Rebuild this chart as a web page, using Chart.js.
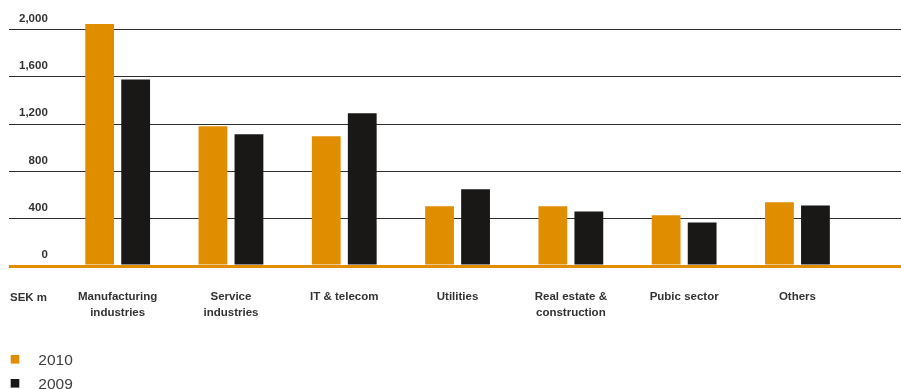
<!DOCTYPE html>
<html><head><meta charset="utf-8">
<script src="https://cdn.jsdelivr.net/npm/chart.js@4.4.1/dist/chart.umd.min.js"></script>
<style>html,body{margin:0;padding:0;background:#fff;}canvas{display:block;}</style>
</head><body>
<canvas id="c" width="901" height="389"></canvas>
<script>
// ---- data ----
const categories = [['Manufacturing','industries'], ['Service','industries'], 'IT & telecom', 'Utilities', ['Real estate &','construction'], 'Pubic sector', 'Others'];
const series2010 = [2045, 1181, 1096, 504, 504, 428, 538];
const series2009 = [1577, 1113, 1291, 648, 461, 368, 512];
const yTickValues = [0, 400, 800, 1200, 1600, 2000];
const seriesLabels = ['2010', '2009'];
const unitLabel = 'SEK m';

// ---- styles ----
const ORANGE = '#e08e00';
const BLACK = '#191817';
const FONT = '"Liberation Sans", Arial, Helvetica, sans-serif';
const TICK_PAD_X = 22.5;
const LINE_H = 16;

const extras = {
  id: 'extras',
  afterDraw(chart) {
    const ctx = chart.ctx;
    const xs = chart.scales.x;
    const ca = chart.chartArea;
    ctx.save();
    // unit label at left of category labels
    ctx.font = 'bold 11.5px ' + FONT;
    ctx.fillStyle = '#333333';
    ctx.textAlign = 'left';
    ctx.textBaseline = 'alphabetic';
    ctx.fillText(unitLabel, ca.left + 1, xs.top + TICK_PAD_X + 12);
    // legend, stacked vertically
    ctx.font = '15.5px ' + FONT;
    chart.data.datasets.forEach((ds, i) => {
      const base = chart.height - 23.7 + i * 24;
      ctx.fillStyle = ds.backgroundColor;
      ctx.fillRect(ca.left + 1.7, base - 10.3, 8.6, 8.6);
      ctx.fillStyle = '#404040';
      ctx.fillText(ds.label, ca.left + 29.3, base);
    });
    ctx.restore();
  }
};

new Chart(document.getElementById('c'), {
  type: 'bar',
  data: {
    datasets: [
      { label: seriesLabels[0], data: series2010.map((v, i) => ({x: i, y: v})), backgroundColor: ORANGE, borderWidth: 0 },
      { label: seriesLabels[1], data: series2009.map((v, i) => ({x: i, y: v})), backgroundColor: BLACK, borderWidth: 0 }
    ]
  },
  options: {
    responsive: false,
    animation: false,
    devicePixelRatio: 1,
    categoryPercentage: 0.6355,
    barPercentage: 0.8,
    layout: { padding: { top: 17.5, left: 0, right: 0, bottom: 46 } },
    plugins: { legend: { display: false }, tooltip: { enabled: false } },
    scales: {
      x: {
        type: 'linear',
        offset: false,
        min: -0.959,
        max: 6.914,
        afterBuildTicks: s => { s.ticks = categories.map((c, i) => ({ value: i })); },
        grid: { display: false, drawTicks: false, offset: false },
        border: { display: false },
        ticks: {
          autoSkip: false, maxRotation: 0, minRotation: 0,
          padding: TICK_PAD_X,
          color: '#333333',
          font: { family: FONT, size: 11.5, weight: 'bold', lineHeight: LINE_H / 11.5 },
          callback: v => categories[v]
        }
      },
      y: {
        min: 0,
        max: 2100,
        afterBuildTicks: s => { s.ticks = yTickValues.map(v => ({ value: v })); },
        afterFit: s => { s.width = 9; },
        border: { display: false },
        grid: {
          drawTicks: false,
          color: c => (c.tick && c.tick.value === 0) ? ORANGE : '#2e2e2e',
          lineWidth: c => (c.tick && c.tick.value === 0) ? 3 : 1
        },
        ticks: {
          mirror: true,
          crossAlign: 'far',
          padding: 10,
          labelOffset: -11,
          color: '#333333',
          font: { family: FONT, size: 11.5, weight: 'bold' },
          callback: v => v.toLocaleString('en-US')
        }
      }
    }
  },
  plugins: [extras]
});
</script>
</body></html>
